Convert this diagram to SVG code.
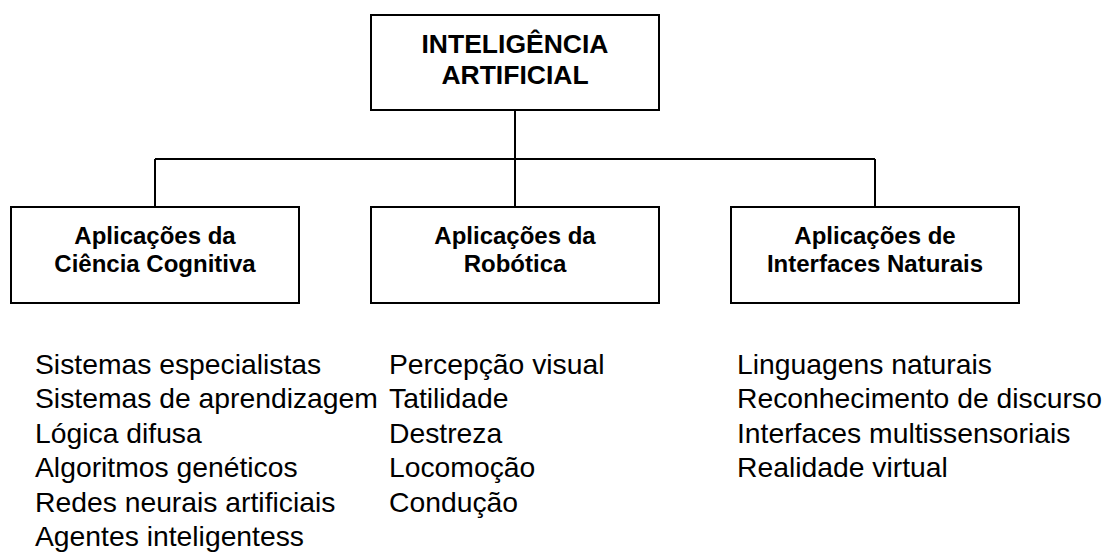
<svg xmlns="http://www.w3.org/2000/svg" width="1119" height="552" viewBox="0 0 1119 552">
<style>
.box{fill:#fff;stroke:#000;stroke-width:2}
.ln{fill:none;stroke:#000;stroke-width:2}
.t{font-family:"Liberation Sans",Arial,sans-serif;font-weight:bold;fill:#000;text-anchor:middle}
.l{font-family:"Liberation Sans",Arial,sans-serif;font-size:28.3px;fill:#000}
</style>
<rect width="1119" height="552" fill="#fff"/>
<g id="connectors">
<path class="ln" d="M515 110V159M155 159H875M155 159V207M515 159V207M875 159V207"/>
</g>
<g id="root">
<rect class="box" x="371" y="15" width="288" height="95"/>
<text class="t" font-size="26.5" x="515" y="53">INTELIGÊNCIA</text>
<text class="t" font-size="26.5" x="515" y="84">ARTIFICIAL</text>
</g>
<g id="cognitiva">
<rect class="box" x="11" y="207" width="288" height="96"/>
<text class="t" font-size="24" x="155" y="244">Aplicações da</text>
<text class="t" font-size="24" x="155" y="272">Ciência Cognitiva</text>
</g>
<g id="robotica">
<rect class="box" x="371" y="207" width="288" height="96"/>
<text class="t" font-size="24" x="515" y="244">Aplicações da</text>
<text class="t" font-size="24" x="515" y="272">Robótica</text>
</g>
<g id="interfaces">
<rect class="box" x="731" y="207" width="288" height="96"/>
<text class="t" font-size="24" x="875" y="244">Aplicações de</text>
<text class="t" font-size="24" x="875" y="272">Interfaces Naturais</text>
</g>
<g id="lista-cognitiva">
<text class="l" x="35" y="374">Sistemas especialistas</text>
<text class="l" x="35" y="408.4">Sistemas de aprendizagem</text>
<text class="l" x="35" y="442.8">Lógica difusa</text>
<text class="l" x="35" y="477.2">Algoritmos genéticos</text>
<text class="l" x="35" y="511.6">Redes neurais artificiais</text>
<text class="l" x="35" y="546">Agentes inteligentess</text>
</g>
<g id="lista-robotica">
<text class="l" x="389" y="374">Percepção visual</text>
<text class="l" x="389" y="408.4">Tatilidade</text>
<text class="l" x="389" y="442.8">Destreza</text>
<text class="l" x="389" y="477.2">Locomoção</text>
<text class="l" x="389" y="511.6">Condução</text>
</g>
<g id="lista-interfaces">
<text class="l" x="737" y="374">Linguagens naturais</text>
<text class="l" x="737" y="408.4">Reconhecimento de discurso</text>
<text class="l" x="737" y="442.8">Interfaces multissensoriais</text>
<text class="l" x="737" y="477.2">Realidade virtual</text>
</g>
</svg>
